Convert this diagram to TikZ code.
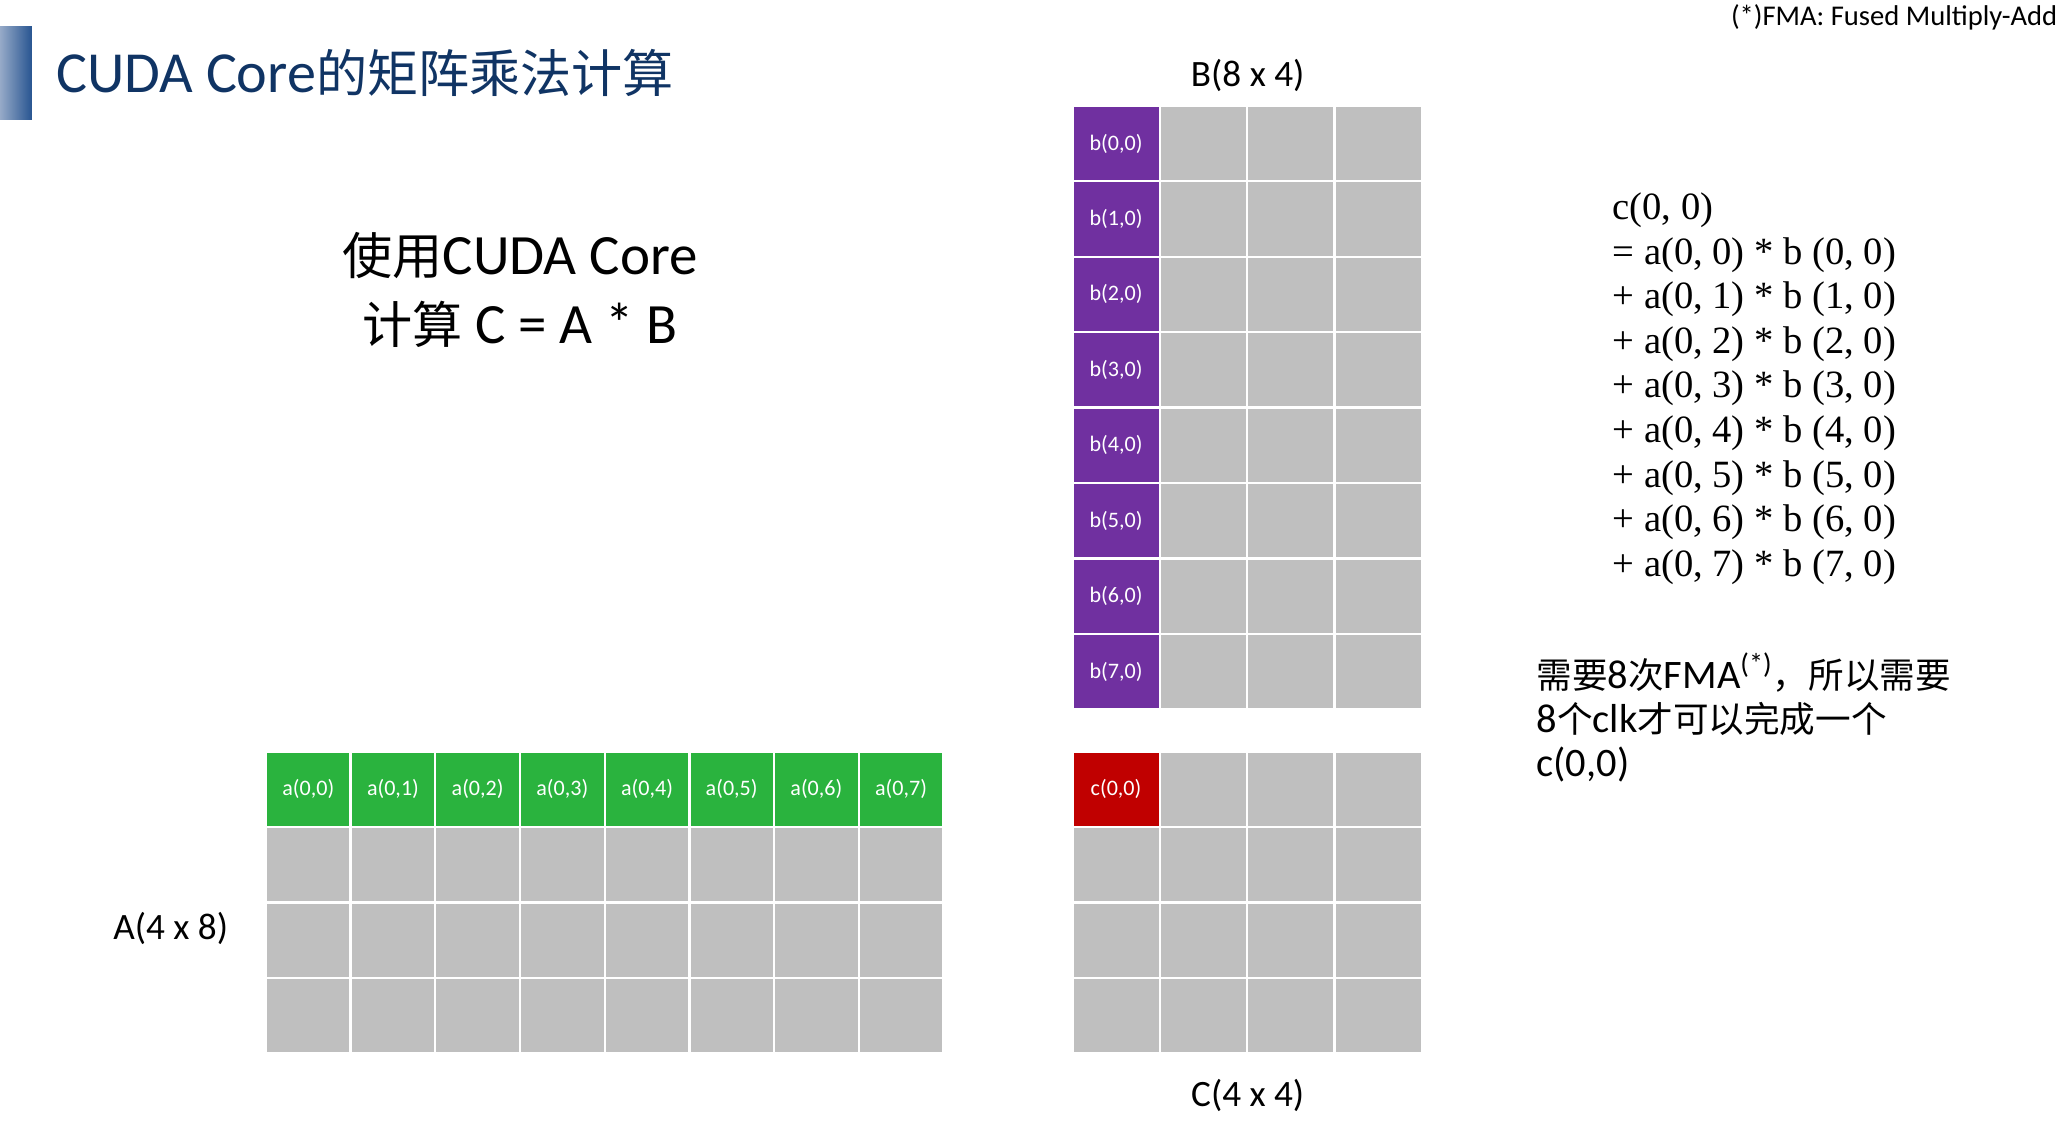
\documentclass[tikz,border=0pt]{standalone}
\usepackage{fontspec}
\setmainfont{Carlito}
\newfontfamily\cjk{Noto Sans CJK SC}[Scale=0.88]
\newfontfamily\eqfont{Liberation Serif}
\usepackage{tikz}
\usetikzlibrary{positioning}
\usepackage{xcolor}
\definecolor{cudablue}{RGB}{16,52,100}
\definecolor{cellgray}{RGB}{191,191,191}
\definecolor{agreen}{RGB}{42,179,62}
\definecolor{bpurple}{RGB}{112,48,160}
\definecolor{cred}{RGB}{192,0,0}
\definecolor{barlight}{RGB}{150,170,200}
\definecolor{bardark}{RGB}{40,85,145}
\tikzstyle{cell} = [rectangle, minimum width=1.32cm, minimum height=1.14cm, inner sep=0pt, fill=cellgray, draw=white, line width=1pt, text=white, font=\fontsize{9.5}{11}\selectfont]
\tikzstyle{acell} = [cell, minimum width=1.28cm]
\tikzstyle{dimtext} = [font=\fontsize{16}{19}\selectfont]
\tikzstyle{eqline} = [anchor=base west, inner sep=0pt, font=\eqfont\fontsize{16.6}{19}\selectfont]

\begin{document}
\begin{tikzpicture}
\useasboundingbox (0,0) rectangle (31.26,17.02);

% Title
\shade[left color=barlight, right color=bardark] (0,15.22) rectangle (0.48,16.62);
\node[anchor=west, inner sep=0pt, text=cudablue, font=\fontsize{25}{30}\selectfont] (title) at (0.84,15.92) {CUDA Core{\cjk 的矩阵乘法计算}};
\node[anchor=east, font=\fontsize{12.3}{14}\selectfont] (fmadef) at (31.22,16.76) {(*)FMA: Fused Multiply-Add};

% Task
\node[align=center, font=\fontsize{24.5}{29.6}\selectfont] (task) at (7.86,12.64) {{\cjk 使用}CUDA Core\\{\cjk 计算} C = A * B};

% Matrix B
\node[dimtext] (blabel) at (18.86,15.88) {B(8 x 4)};
\foreach \i in {0,...,7}{
  \node[cell, fill=bpurple] (b\i0) at (16.87,{14.85-1.14*\i}) {b(\i,0)};
  \foreach \j in {1,2,3}
    \node[cell] (b\i\j) at ({16.87+1.32*\j},{14.85-1.14*\i}) {};
}

% Matrix A
\node[dimtext] (alabel) at (2.58,2.98) {A(4 x 8)};
\foreach \j in {0,...,7}{
  \node[acell, fill=agreen] (a0\j) at ({4.66+1.28*\j},5.09) {a(0,\j)};
  \foreach \i in {1,2,3}
    \node[acell] (a\i\j) at ({4.66+1.28*\j},{5.09-1.14*\i}) {};
}

% Matrix C
\node[dimtext] (clabel) at (18.86,0.46) {C(4 x 4)};
\foreach \i in {0,...,3}
  \foreach \j in {0,...,3}
    \node[cell] (c\i\j) at ({16.87+1.32*\j},{5.09-1.14*\i}) {};
\node[cell, fill=cred] (c00) at (16.87,5.09) {c(0,0)};

% Sum for c(0,0)
\node[eqline] (eqc) at (24.37,13.70) {c(0, 0)};
\node[eqline] (eqfirst) at (24.37,13.026) {= a(0, 0) * b (0, 0)};
\foreach \k in {1,...,7}
  \node[eqline] (eqterm\k) at (24.37,{13.70-0.674*(\k+1)}) {+ a(0, \k) * b (\k, 0)};

% Note
\node[anchor=north west, align=left, inner sep=0pt, font=\fontsize{17.4}{19.1}\selectfont] (fmanote) at (23.22,7.16) {{\cjk 需要}8{\cjk 次}FMA\textsuperscript{(*)}{\cjk ，所以需要}\\8{\cjk 个}clk{\cjk 才可以完成一个}\\c(0,0)};
\end{tikzpicture}
\end{document}
